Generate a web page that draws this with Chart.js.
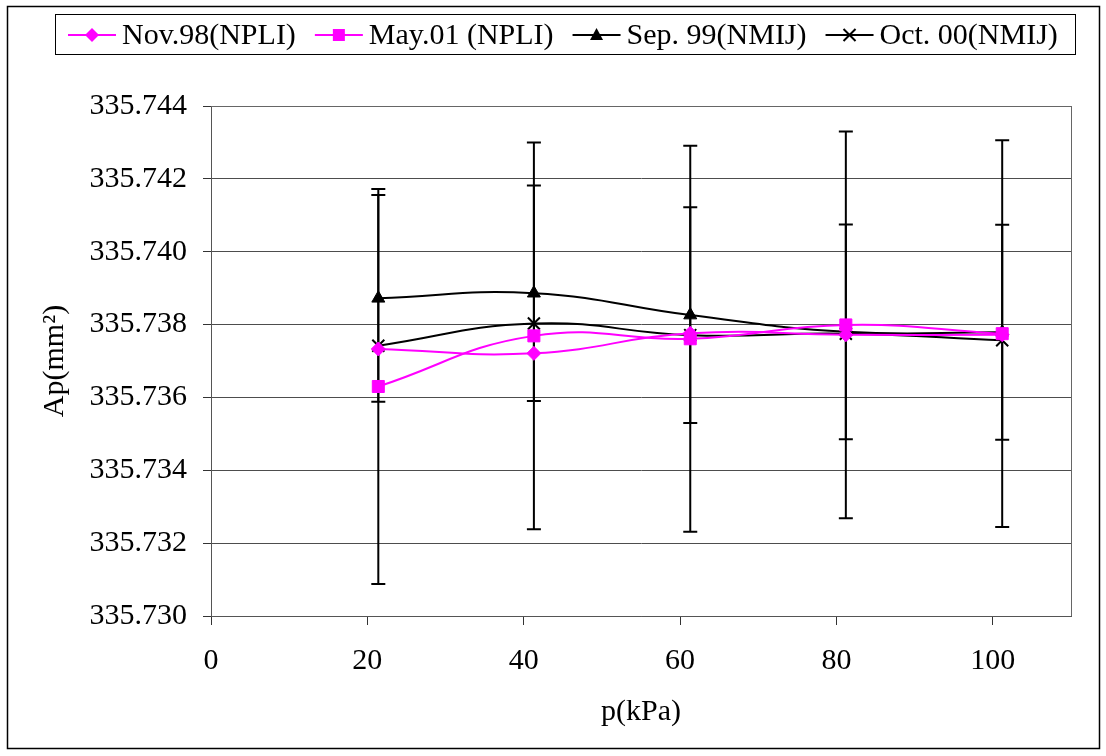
<!DOCTYPE html>
<html>
<head>
<meta charset="utf-8">
<script src="https://cdn.jsdelivr.net/npm/chart.js@4.4.0/dist/chart.umd.min.js"></script>
<style>
  html, body { margin: 0; padding: 0; background: #fff; }
  canvas { display: block; }
</style>
</head>
<body>
<canvas id="chart" width="1106" height="756"></canvas>
<script>
// pressure points (kPa)
const pressures = [21.4, 41.3, 61.3, 81.2, 101.2];

// effective area Ap (mm^2)
const nov98 = [335.73733, 335.73721, 335.73776, 335.73772, 335.73772];
const may01 = [335.73630, 335.73769, 335.73761, 335.73799, 335.73775];
const sep99 = [335.73872, 335.73886, 335.73826, 335.73780, 335.73779];
const oct00 = [335.73742, 335.73803, 335.73771, 335.73775, 335.73757];

// error bar half widths
const may01Err = [0.00542, 0.00531, 0.00530, 0.00531, 0.00531];
const sep99Err = [0.00284, 0.00296, 0.00296, 0.00295, 0.00295];

const seriesLabels = ['Nov.98(NPLI)', 'May.01 (NPLI)', 'Sep. 99(NMIJ)', 'Oct. 00(NMIJ)'];
const seriesColors = ['#ff00ff', '#ff00ff', '#000000', '#000000'];
const seriesMarkers = ['rectRot', 'rect', 'triangle', 'crossRot'];

const yMin = 335.730, yMax = 335.744, yStep = 0.002;
const xMin = 0, xMax = 110, xStep = 20;

const FONT = '"Liberation Serif", "Times New Roman", serif';

function pts(values) {
    return pressures.map((p, i) => ({ x: p, y: values[i] }));
}

function drawMarker(ctx, style, x, y, color) {
    ctx.save();
    ctx.fillStyle = color;
    ctx.strokeStyle = color;
    ctx.beginPath();
    if (style === 'rectRot') {
        ctx.moveTo(x, y - 7); ctx.lineTo(x + 7, y); ctx.lineTo(x, y + 7); ctx.lineTo(x - 7, y);
        ctx.closePath(); ctx.fill();
    } else if (style === 'rect') {
        ctx.fillRect(x - 6, y - 6, 12, 12);
    } else if (style === 'triangle') {
        ctx.moveTo(x, y - 7); ctx.lineTo(x + 6.5, y + 5); ctx.lineTo(x - 6.5, y + 5);
        ctx.closePath(); ctx.fill();
    } else {
        ctx.lineWidth = 2;
        ctx.moveTo(x - 6, y - 6); ctx.lineTo(x + 6, y + 6);
        ctx.moveTo(x + 6, y - 6); ctx.lineTo(x - 6, y + 6);
        ctx.stroke();
    }
    ctx.restore();
}

const framePlugin = {
    id: 'frame',
    beforeDraw(chart) {
        const ctx = chart.ctx;
        ctx.save();
        ctx.fillStyle = '#fff';
        ctx.fillRect(0, 0, chart.width, chart.height);
        ctx.strokeStyle = '#000';
        ctx.lineWidth = 1.5;
        ctx.strokeRect(7.5, 6.5, 1092, 742);
        ctx.restore();
    },
    afterDraw(chart) {
        const ctx = chart.ctx;
        const a = chart.chartArea;
        ctx.save();
        // plot area border (top and right)
        ctx.strokeStyle = '#666';
        ctx.lineWidth = 1;
        ctx.beginPath();
        ctx.moveTo(a.left, Math.round(a.top) + 0.5);
        ctx.lineTo(a.right, Math.round(a.top) + 0.5);
        ctx.moveTo(Math.round(a.right) + 0.5, a.top);
        ctx.lineTo(Math.round(a.right) + 0.5, a.bottom);
        ctx.stroke();

        // legend
        ctx.strokeStyle = '#000';
        ctx.strokeRect(55.5, 14.5, 1020, 40);
        ctx.font = '30px ' + FONT;
        ctx.textBaseline = 'middle';
        ctx.fillStyle = '#000';
        const yMid = 35;
        let x = 68;
        seriesLabels.forEach((label, i) => {
            ctx.strokeStyle = seriesColors[i];
            ctx.lineWidth = 2;
            ctx.beginPath();
            ctx.moveTo(x, yMid);
            ctx.lineTo(x + 48, yMid);
            ctx.stroke();
            drawMarker(ctx, seriesMarkers[i], x + 24, yMid, seriesColors[i]);
            ctx.fillStyle = '#000';
            ctx.fillText(label, x + 54, yMid + 1);
            x += 54 + ctx.measureText(label).width + 19;
        });
        ctx.restore();
    }
};

const errorBarPlugin = {
    id: 'errorBars',
    beforeDatasetsDraw(chart) {
        const ctx = chart.ctx;
        const xs = chart.scales.x, ys = chart.scales.y;
        const bars = [[may01, may01Err], [sep99, sep99Err]];
        ctx.save();
        ctx.strokeStyle = '#000';
        ctx.lineWidth = 2;
        bars.forEach(([vals, errs]) => {
            vals.forEach((v, i) => {
                const px = xs.getPixelForValue(pressures[i]);
                const top = ys.getPixelForValue(v + errs[i]);
                const bot = ys.getPixelForValue(v - errs[i]);
                ctx.beginPath();
                ctx.moveTo(px, top); ctx.lineTo(px, bot);
                ctx.moveTo(px - 7, top); ctx.lineTo(px + 7, top);
                ctx.moveTo(px - 7, bot); ctx.lineTo(px + 7, bot);
                ctx.stroke();
            });
        });
        ctx.restore();
    }
};

function makeDataset(i, values, radius) {
    return {
        label: seriesLabels[i],
        data: pts(values),
        borderColor: seriesColors[i],
        backgroundColor: seriesColors[i],
        borderWidth: 2,
        pointStyle: seriesMarkers[i],
        pointRadius: radius,
        pointBorderWidth: seriesMarkers[i] === 'crossRot' ? 2 : 1,
        tension: 0.45,
        fill: false
    };
}

new Chart(document.getElementById('chart'), {
    type: 'line',
    data: {
        datasets: [
            makeDataset(0, nov98, 7),
            makeDataset(1, may01, 8.5),
            makeDataset(2, sep99, 7.5),
            makeDataset(3, oct00, 8.5)
        ]
    },
    options: {
        responsive: false,
        animation: false,
        layout: { padding: { left: 0, right: 35, top: 106, bottom: 26 } },
        plugins: { legend: { display: false }, tooltip: { enabled: false } },
        scales: {
            x: {
                type: 'linear',
                min: xMin, max: xMax,
                afterFit: s => { s.height = 114; },
                border: { color: '#555', width: 1 },
                grid: { drawOnChartArea: false, drawTicks: true, tickLength: 9, tickColor: '#333' },
                ticks: { stepSize: xStep, includeBounds: false, padding: 18, color: '#000',
                         font: { family: FONT, size: 30 }, maxRotation: 0 },
                title: { display: true, text: 'p(kPa)', color: '#000',
                         font: { family: FONT, size: 30 }, padding: { top: 0, bottom: 0 } }
            },
            y: {
                type: 'linear',
                min: yMin, max: yMax,
                afterFit: s => { s.width = 211; },
                border: { color: '#555', width: 1 },
                grid: { color: '#4d4d4d', lineWidth: 1, tickLength: 8, tickColor: '#333' },
                ticks: { stepSize: yStep, padding: 16, color: '#000',
                         font: { family: FONT, size: 30 },
                         callback: v => Number(v).toFixed(3) },
                title: { display: true, text: 'Ap(mm²)', color: '#000',
                         font: { family: FONT, size: 30 }, padding: { top: 37, bottom: 0 } }
            }
        }
    },
    plugins: [framePlugin, errorBarPlugin]
});
</script>
</body>
</html>
